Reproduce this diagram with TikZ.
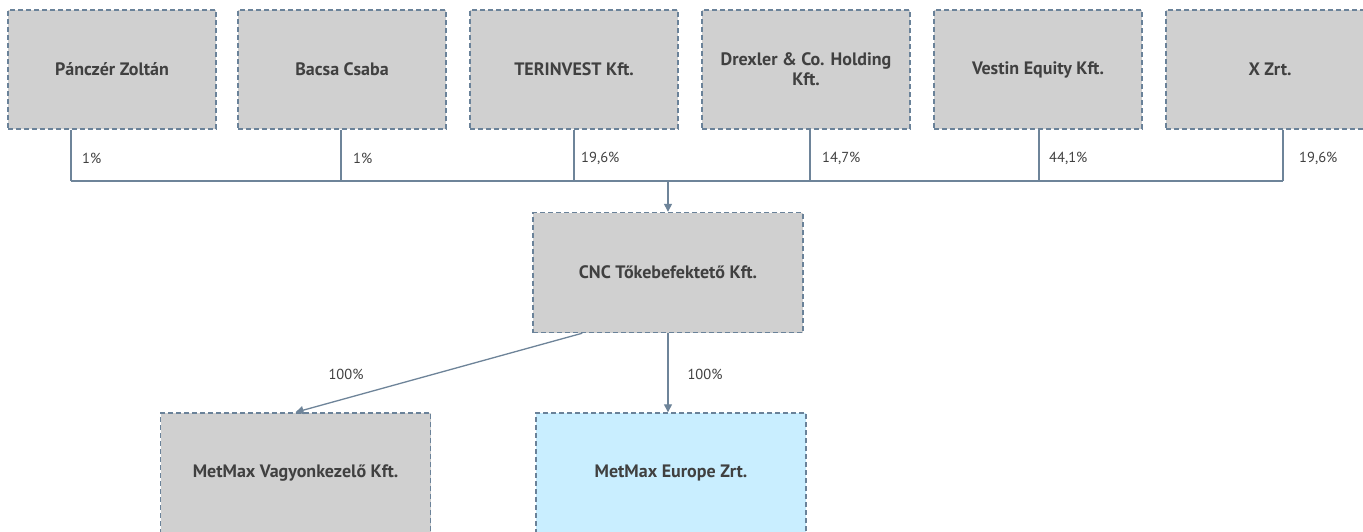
\documentclass[tikz,border=0pt]{standalone}
\usepackage{fontspec}
\setmainfont{PT Sans}
\usetikzlibrary{arrows.meta,calc}
\definecolor{boxfill}{HTML}{D0D0D0}
\definecolor{boxline}{HTML}{6A8299}
\definecolor{connline}{HTML}{6E8499}
\definecolor{txt}{HTML}{404040}
\definecolor{bluefill}{HTML}{C9EEFF}
\tikzset{
  entity/.style={draw=boxline, fill=boxfill, line width=1.4pt, dash pattern=on 5pt off 3pt,
    minimum width=208pt, minimum height=119pt, inner sep=2pt, align=center,
    text=txt, font=\fontsize{18}{20}\selectfont\bfseries},
  wide/.style={minimum width=270pt, minimum height=120pt},
  conn/.style={draw=connline, line width=1.3pt},
  arr/.style={conn, -{Triangle[length=8pt,width=8pt]}},
  pct/.style={text=txt, font=\fontsize{14.5}{16}\selectfont, inner sep=0pt, anchor=west}
}
\begin{document}
\begin{tikzpicture}[x=1pt,y=-1pt]
\useasboundingbox (0,0) rectangle (1363,531);
\fill[white] (0,0) rectangle (1363,531);
% owners
\node[entity] (p1) at (112,69.5) {Pánczér Zoltán};
\node[entity] (p2) at (342,69.5) {Bacsa Csaba};
\node[entity] (p3) at (574,69.5) {TERINVEST Kft.};
\node[entity] (p4) at (806,69.5) {Drexler \& Co. Holding\\Kft.};
\node[entity] (p5) at (1038,69.5) {Vestin Equity Kft.};
\node[entity] (p6) at (1270,69.5) {X Zrt.};
% holding and subsidiaries
\node[entity,wide] (cnc) at (668,272.5) {CNC Tőkebefektető Kft.};
\node[entity,wide] (mv) at (295.5,473) {MetMax Vagyonkezelő Kft.};
\node[entity,wide,fill=bluefill] (me) at (671,473) {MetMax Europe Zrt.};
% bus
\coordinate (bus) at (668,181);
\foreach \n/\dx in {p1/-41,p2/-1,p3/0,p4/4,p5/1,p6/13}
  \draw[conn] ([xshift=\dx pt]\n.south) -- ([xshift=\dx pt]\n.south |- bus);
\draw[conn] ([xshift=-41pt]p1.south |- bus) -- ([xshift=13pt]p6.south |- bus);
\draw[arr] (bus) -- (cnc.north);
% percentages
\node[pct] (l1) at (82,158) {1\%};
\node[pct] (l2) at (353,158) {1\%};
\node[pct] (l3) at (581,158) {19,6\%};
\node[pct] (l4) at (822,158) {14,7\%};
\node[pct] (l5) at (1049,158) {44,1\%};
\node[pct] (l6) at (1299,158) {19,6\%};
% children
\draw[arr] ([xshift=50pt]cnc.south west) -- (mv.north);
\draw[arr] (cnc.south) -- (cnc.south |- me.north);
\node[pct,anchor=center] (l7) at (346,374) {100\%};
\node[pct,anchor=center] (l8) at (705,374) {100\%};
\end{tikzpicture}
\end{document}
